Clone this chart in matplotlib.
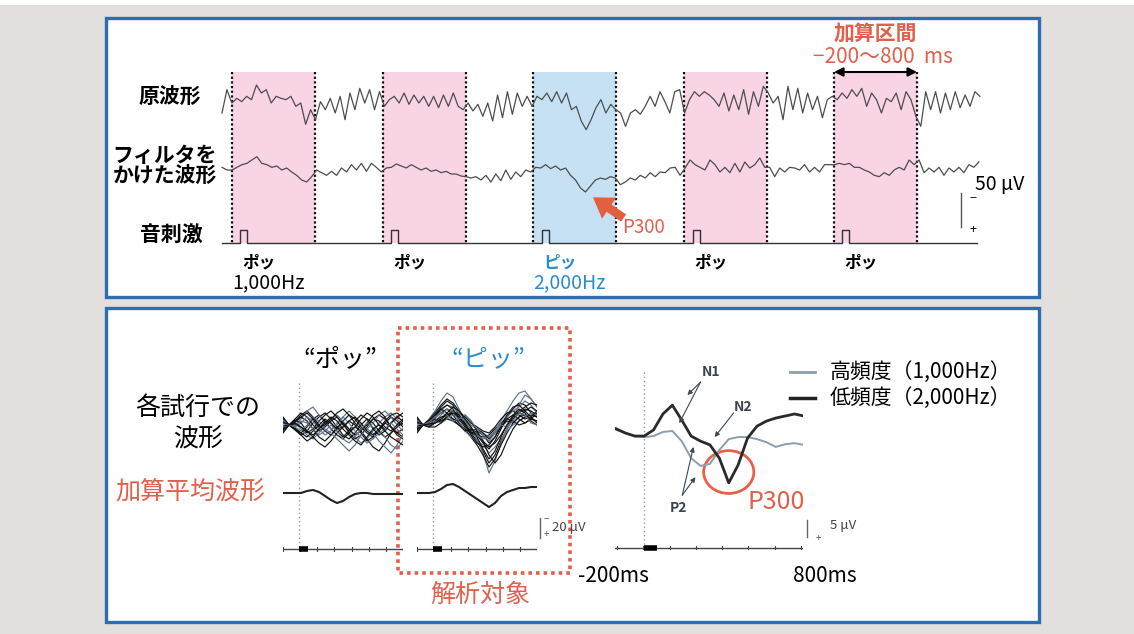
import numpy as np
import matplotlib
matplotlib.use('Agg')
import matplotlib.pyplot as plt
from matplotlib.patches import Rectangle, Ellipse

plt.rcParams['font.family'] = ['Noto Sans CJK JP', 'DejaVu Sans']

# --- continuous recording (top strip), µV, negative up ---
raw_uv = [15, -20, 0,
          -7, -2, -10, -5, -27, -15, -20, 0, -10, -7, -5, -10, 5, 0, 32, 10, 25,
          -2, 10, -7, 15, -10, 25, -15, 10, -22, 0, -20, 10, -17, 5,
          -5, -10, 0, -15, 2, -12, 0, -10, 5, -10, 7, -12, 5, -15, 5, 10, 0,
          12, 2, 20, 0, 27, -12, 22, -17, 17, -15, 5, -10, 5,
          -10, -5, -15, -2, -17, 0, -15, 10, 5, 27, 40, 25, 7, -5, 15, 2, 10,
          15, 35, 15, 10, 17, 5, -10, 5, -17, -2, 15, -17, -20, 15,
          -5, -17, -10, -17, -12, -5, 5, -15, 12, -12, 10, -20, 17, -17, 5, -25, -15,
          0, -10, 25, -25, 10, -22, 15, -15, 10, -10, 22, -5, -10,
          -5, -15, -7, -20, -10, -22, 5, -15, -5, 15, -7, -2, -15, 10, -17, -5, 20,
          35, -17, 10, -17, 15, -15, 10, -17, 7, -12, 5, -17, -10]
raw_dt_ms = 59.3

filt_uv = [-4, 0, 0, -4, -8, -10, -15, -20, -10, -8,
           -4, -6, 0, -3, 3, 8, 15, 18, 10, 0,
           4, 8, 2, 8, -3, 3, -8, 0, -10, 2,
           -10, -4, 3, -3, -4, -9, -6, -3, -8, -4,
           0, -3, 2, 0, 4, 2, 6, 6, 9, 10,
           12, 10, 15, 8, 18, 6, 16, 0, 14, 3,
           10, 0, 3, -4, -3, -8, -2, -6, 0, -3,
           8, 15, 27, 33, 24, 15, 12, 14, 10,
           12, 22, 18, 12, 15, 8, 12, 4, 10, 3,
           4, -3, -4, 8, -3, -15, -8, -4, 0, -15,
           -8, 3, -4, 4, -10, 3, -12, -3, -8, -18,
           -4, -4, 10, -3, 3, -4, -3, 0, -8, 3,
           -4, 3, -8, -8, -8, -10, -8, -10, -4, -4,
           0, 3, 8, 10, 4, 8, 0, -4, 0, -15,
           -8, -15, 4, -3, 3, -4, 8, -3, 3, -4,
           4, -8, -4, -12]
filt_dt_ms = 60

epoch_starts_ms = [120, 1940, 3750, 5570, 7375]
epoch_len_ms = 1000
tone_names = ['ポッ', 'ポッ', 'ピッ', 'ポッ', 'ポッ']
tone_hz = ['1,000Hz', '', '2,000Hz', '', '']

# --- single trials, 50 ms steps from -130 ms, µV ---
trials_pon = [
    [-7, 0, -4, -10, -14, -8, 0, 6, 10, 4, -4, -10, -6, 2, 8, 12, 6, -2, -8, -4, 2],
    [6, 0, 5, 10, 6, -2, -8, -12, -6, 2, 10, 14, 8, 0, -6, -2, 6, 12, 8, 2, -4],
    [-4, 0, -2, 4, 10, 14, 8, 0, -6, -10, -4, 4, 12, 18, 14, 6, -2, -8, -12, -6, 0],
    [3, 0, -6, -12, -8, 0, 6, 2, -4, -8, -2, 8, 14, 10, 2, -6, -10, -6, 2, 8, 4],
    [-6, 0, 3, 8, 2, -6, -10, -4, 4, 10, 14, 8, 2, 6, 14, 22, 26, 18, 8, 2, -2],
    [7, 0, 0, -6, -14, -18, -10, -2, 4, 0, -8, -14, -8, 0, 4, -2, -10, -14, -8, 0, 6],
    [-2, 0, 4, 10, 16, 12, 4, -4, -2, 6, 12, 6, -4, -10, -6, 4, 10, 6, -2, -8, -12],
    [4, 0, -3, -8, -4, 4, 12, 16, 10, 2, -2, 4, 10, 6, -2, -10, -14, -8, 2, 10, 14],
    [-5, 0, 2, -2, -8, -4, 4, 10, 6, -2, -8, -2, 6, 12, 18, 14, 8, 12, 20, 24, 16],
    [5, 0, -1, 2, 8, 4, -4, -10, -14, -8, 0, 6, 2, -6, -12, -8, 0, 4, -2, -8, -4],
    [-3, 0, -5, -2, 6, 12, 18, 22, 16, 8, 2, -4, 0, 8, 16, 12, 4, -2, 2, 8, 12],
    [2, 0, 2, 6, 0, -8, -4, 4, 8, 14, 20, 26, 20, 10, 4, 8, 16, 22, 28, 20, 10],
    [-8, 0, -3, -8, -12, -6, 2, 0, -6, -12, -16, -10, -2, 4, 0, -6, -4, 2, 6, 0, -6],
    [8, 0, 4, 8, 12, 6, 0, -6, -2, 4, 2, -4, -8, -2, 6, 10, 4, -4, -10, -12, -8],
    [-1, 0, 1, -4, -2, 4, 10, 6, 0, 6, 14, 18, 12, 4, -2, 2, 8, 4, -2, 4, 10],
    [1, 0, -2, 2, 6, 10, 4, -2, -8, -4, 4, 10, 16, 20, 12, 4, 0, 6, 12, 16, 20],
]
trials_pin = [
    [-7, 0, -4, -10, -18, -24, -20, -10, -2, 4, 10, 18, 24, 16, 4, -8, -16, -22, -20, -12, -8],
    [6, 0, 2, -2, -6, -10, -14, -10, -2, 8, 16, 26, 38, 30, 16, 4, -6, -12, -16, -14, -10],
    [-4, 0, -6, -14, -24, -32, -28, -16, -4, 6, 14, 28, 48, 36, 18, 4, -8, -20, -30, -26, -18],
    [3, 0, 1, -2, -4, -6, -4, 0, 4, 8, 10, 12, 10, 4, -2, -6, -4, 0, -2, -6, -4],
    [-6, 0, -4, -8, -12, -16, -10, -2, 4, 12, 20, 30, 42, 34, 20, 8, -2, -8, -10, -6, -4],
    [7, 0, 0, -6, -14, -20, -18, -12, -6, 0, 4, 8, 12, 6, -4, -14, -24, -32, -34, -26, -18],
    [-2, 0, -3, -6, -4, -8, -14, -10, 0, 8, 6, 10, 18, 12, 2, -6, -10, -6, -2, -6, -12],
    [4, 0, -2, -8, -16, -12, -6, -4, -10, -4, 6, 16, 22, 18, 10, 0, -10, -16, -12, -4, 0],
    [-5, 0, 0, -4, -10, -16, -14, -4, 6, 12, 16, 20, 28, 22, 14, 6, 0, -4, -8, -12, -10],
    [5, 0, -5, -12, -20, -26, -22, -14, -8, -2, 2, 6, 8, 2, -6, -12, -14, -10, -6, -8, -14],
    [-3, 0, -1, -4, -8, -10, -6, 0, 6, 4, 8, 16, 30, 38, 30, 16, 4, -4, -8, -10, -8],
    [2, 0, -2, -4, -2, -6, -10, -8, -4, 2, 10, 14, 12, 6, -2, -8, -14, -18, -24, -20, -12],
    [-8, 0, -4, -10, -16, -20, -16, -6, 2, 6, 4, 8, 14, 8, 2, -4, -2, -8, -14, -18, -14],
    [8, 0, 2, 2, -2, -8, -12, -8, 0, 10, 18, 22, 20, 12, 0, -10, -18, -20, -14, -8, -2],
    [-1, 0, -3, -8, -12, -10, -4, -6, -10, -4, 4, 10, 16, 8, 0, 2, -4, -12, -10, -2, 0],
    [1, 0, -1, -2, -6, -12, -18, -14, -6, 2, 12, 24, 34, 26, 12, 0, -8, -14, -18, -22, -20],
]
avg_pon = [0, 0, 0, 0, -2, -3, -1, 3, 7, 10, 8, 4, 1, 0, 0, 1, 1, 1, 1, 1, 1]
avg_pin = [0, 0, 0, -1, -4, -8, -9, -6, -2, 2, 6, 10, 14, 10, 3, -1, -3, -5, -5, -6, -6]

# --- grand averages, -150..850 ms ---
erp_t = np.arange(-150, 851, 50)
erp_frequent = [-2.4, -0.9, 0, 0.3, 0, -1.2, -1.5, 1.5, 6.5, 8.8, 8.2,
                4.1, 0.9, 0.3, 0.3, 0.9, 1.8, 3.2, 2.4, 2.1, 2.6]
erp_rare = [-2.1, -0.9, 0, 0, -1.8, -6.5, -9.1, -4.7, 0, 1.5, 2.6,
            6.5, 13.8, 8.5, 0.6, -2.9, -4.4, -5.3, -5.9, -6.5, -5.9]

RED = '#e0604c'
BLUE_TXT = '#2b8dcc'
PINK = '#f8d4e4'
LBLUE = '#c7e1f4'
FRAME = '#2c6db4'

W, H = 1134, 634
fig = plt.figure(figsize=(W / 100, H / 100), dpi=100)
fig.patch.set_facecolor('#e3dfdc')


def px_axes(x0, y0, x1, y1):
    a = fig.add_axes([x0 / W, 1 - y1 / H, (x1 - x0) / W, (y1 - y0) / H])
    a.axis('off')
    a.patch.set_alpha(0)
    return a


canvas = px_axes(0, 0, W, H)
canvas.set_xlim(0, W)
canvas.set_ylim(H, 0)
canvas.add_patch(Rectangle((0, 0), W, 5, color='white', lw=0))
for y0, y1 in [(18, 297), (308, 622)]:
    canvas.add_patch(Rectangle((106, y0), 933, y1 - y0, facecolor='white',
                               edgecolor=FRAME, lw=2.4))

# ---------------- top strip ----------------
PX_MS = 12.05
ax = px_axes(200, 60, 1000, 250)
ax.set_xlim((200 - 222) * PX_MS, (1000 - 222) * PX_MS)
ax.set_ylim(285, 0)
RAW_Y, FILT_Y, STIM_Y, SHADE_TOP = 64.5, 165, 274.5, 18

for s, name in zip(epoch_starts_ms, tone_names):
    ax.add_patch(Rectangle((s, SHADE_TOP), epoch_len_ms, STIM_Y - SHADE_TOP,
                           color=LBLUE if name == 'ピッ' else PINK, lw=0))
    ax.vlines([s, s + epoch_len_ms], SHADE_TOP, STIM_Y, colors='#111',
              linestyles=(0, (1, 1.1)), lw=1.6)

raw = np.array(raw_uv)
filt = np.array(filt_uv)
ax.plot(np.arange(len(raw)) * raw_dt_ms, RAW_Y + raw, color='#4d4d4d', lw=0.9)
ax.plot(np.arange(len(filt)) * filt_dt_ms, FILT_Y + filt, color='#4d4d4d', lw=0.9)

# tone pulses on the stimulus channel
sx, sy = [0], [STIM_Y]
for s in epoch_starts_ms:
    on = s + 100
    sx += [on, on, on + 85, on + 85]
    sy += [STIM_Y, STIM_Y - 19.5, STIM_Y - 19.5, STIM_Y]
sx.append(9100)
sy.append(STIM_Y)
ax.plot(sx, sy, color='#333', lw=1)

for s, name, hz in zip(epoch_starts_ms, tone_names, tone_hz):
    c = BLUE_TXT if name == 'ピッ' else 'k'
    ax.text(s + 320, 303, name, ha='center', va='center', fontsize=12,
            fontweight='bold', color=c)
    if hz:
        ax.text(s, 334, hz, ha='left', va='center', fontsize=14, color=c)

# averaging window marker
last = epoch_starts_ms[-1]
ax.annotate('', xy=(last + epoch_len_ms, 18), xytext=(last, 18),
            arrowprops=dict(arrowstyle='<|-|>', color='k', lw=1.5,
                            shrinkA=0, shrinkB=0, mutation_scale=13))
ax.text(last + 500, -40, '加算区間', ha='center', va='center', fontsize=15,
        fontweight='bold', color=RED)
ax.text(last + 590, -4, '−200〜800  ms', ha='center', va='center', fontsize=15, color=RED)

# P300 pointer on the filtered trace
ax.annotate('', xy=(4470, 206), xytext=(4840, 237),
            arrowprops=dict(arrowstyle='simple,head_width=1.3,head_length=1.0,tail_width=0.45',
                            color='#e2603f', lw=0, shrinkA=0, shrinkB=0, mutation_scale=14))
ax.text(4820, 251, 'P300', ha='left', va='center', fontsize=13.5, color=RED)

# 50 µV bar
ax.plot([8905, 8905], [200, 250], color='#555', lw=1)
ax.text(9050, 206, '−', ha='center', va='center', fontsize=9)
ax.text(9050, 255, '+', ha='center', va='center', fontsize=9)
ax.text(9070, 187, '50 μV', ha='left', va='center', fontsize=14)

for txt, x, y in [('原波形', 170, 97), ('フィルタを', 164, 155),
                  ('かけた波形', 165, 176), ('音刺激', 171, 235)]:
    canvas.text(x, y, txt, ha='center', va='center', fontsize=15, fontweight='bold')

# ---------------- bottom: single trials ----------------
trial_t = -130 + np.arange(21) * 50
AVG_Y, AXIS_Y = 68, 124


def trial_panel(x0, trials, avg):
    a = px_axes(x0, 375, x0 + 120, 560)
    a.set_xlim(-130, 870)
    a.set_ylim(135, -50)
    a.plot([0, 0], [-42, AXIS_Y], color='#8b9bab', ls=(0, (1, 2)), lw=1)
    for i, tr in enumerate(trials):
        c = '#5f7489' if i % 3 == 2 else '#121212'
        a.plot(trial_t, tr, color=c, lw=0.85)
    a.plot(trial_t, AVG_Y + np.array(avg), color='#222', lw=1.5)
    a.plot([-130, 870], [AXIS_Y, AXIS_Y], color='#444', lw=1)
    for tk in np.linspace(-130, 870, 8):
        a.plot([tk, tk], [AXIS_Y - 2, AXIS_Y + 2], color='#444', lw=0.8)
    a.plot([0, 75], [AXIS_Y, AXIS_Y], color='k', lw=4, solid_capstyle='butt')
    return a


trial_panel(283, trials_pon, avg_pon)
ax_pin = trial_panel(417, trials_pin, avg_pin)
ax_pin.plot([895, 895], [93, 113], color='#666', lw=1, clip_on=False)
canvas.text(546, 519, '−', ha='center', va='center', fontsize=7, color='#555')
canvas.text(546, 534, '+', ha='center', va='center', fontsize=7, color='#555')
canvas.text(552, 527, '20 μV', ha='left', va='center', fontsize=9.5, color='#444')

canvas.add_patch(Rectangle((398, 328), 172, 245, fill=False, ec=RED, lw=2.6,
                           ls=(0, (1, 1.1))))

canvas.text(198, 408, '各試行での', ha='center', va='center', fontsize=18)
canvas.text(198, 440, '波形', ha='center', va='center', fontsize=18)
canvas.text(190, 493, '加算平均波形', ha='center', va='center', fontsize=18, color=RED)
canvas.text(340, 360, '“ポッ”', ha='center', va='center', fontsize=18)
canvas.text(488, 360, '“ピッ”', ha='center', va='center', fontsize=18, color=BLUE_TXT)
canvas.text(480, 595, '解析対象', ha='center', va='center', fontsize=18, color=RED)

# ---------------- bottom: grand averages ----------------
ae = px_axes(615, 360, 803, 560)
ae.set_xlim(-155, 845)
ae.set_ylim(36.5, -22.4)
ae.plot([0, 0], [-18.8, 32.9], color='#8b9bab', ls=(0, (1, 2)), lw=1)
ae.plot(erp_t, erp_frequent, color='#8b9eac', lw=1.4)
ae.plot(erp_t, erp_rare, color='#2a2a2a', lw=2.0)
ae.plot([-155, 845], [32.9, 32.9], color='#444', lw=1)
for tk in np.linspace(-145, 835, 8):
    ae.plot([tk, tk], [32.4, 33.4], color='#444', lw=0.8)
ae.plot([0, 70], [32.9, 32.9], color='k', lw=4, solid_capstyle='butt')

ip = int(np.argmax(erp_rare))
ae.add_patch(Ellipse((erp_t[ip], erp_rare[ip] - 3.2), 267, 12.6, fill=False,
                     ec='#e8604a', lw=2))

akw = dict(arrowstyle='-|>', color='#3a4856', lw=0.8, mutation_scale=7,
           shrinkA=0, shrinkB=0)
ae.annotate('', xy=(230, -12.1), xytext=(300, -15.9), arrowprops=akw)
ae.annotate('', xy=(187, -3.8), xytext=(300, -15.9), arrowprops=akw)
ae.annotate('', xy=(375, 0.3), xytext=(476, -6.8), arrowprops=akw)
ae.annotate('', xy=(262, 3.2), xytext=(203, 17.4), arrowprops=akw)
ae.annotate('', xy=(273, 12.1), xytext=(203, 17.4), arrowprops=akw)
for lab, t, v in [('N1', 353, -18.8), ('N2', 524, -8.5), ('P2', 182, 21.2)]:
    ae.text(t, v, lab, ha='center', va='center', fontsize=10, fontweight='bold',
            color='#3a4350')

ae.plot([865, 865], [24.7, 29.7], color='#666', lw=1, clip_on=False)
canvas.text(818, 538, '+', ha='center', va='center', fontsize=7, color='#555')
canvas.text(830, 526, '5 μV', ha='left', va='center', fontsize=9.5, color='#444')

canvas.text(747, 502, 'P300', ha='left', va='center', fontsize=18, color=RED)
canvas.text(578, 576, '-200ms', ha='left', va='center', fontsize=15)
canvas.text(793, 576, '800ms', ha='left', va='center', fontsize=15)

canvas.plot([790, 815], [372, 372], color='#8b9eac', lw=2)
canvas.plot([790, 815], [398, 398], color='#222', lw=2.5)
canvas.text(830, 372, '高頻度（1,000Hz）', ha='left', va='center', fontsize=15)
canvas.text(830, 398, '低頻度（2,000Hz）', ha='left', va='center', fontsize=15)

fig.savefig('out.png', dpi=100, facecolor=fig.get_facecolor())
